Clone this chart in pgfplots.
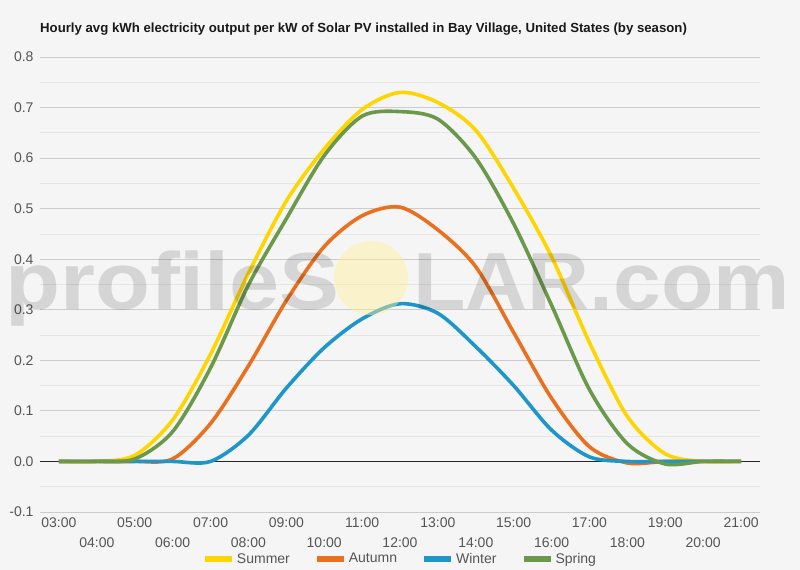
\documentclass[border=0pt]{standalone}
\usepackage{pgfplots}
\usepackage{pgfplotstable}
\pgfplotsset{compat=1.18}
\usepackage{fontspec}
\setmainfont{Liberation Sans}

\definecolor{bg}{HTML}{F5F5F5}
\definecolor{summer}{HTML}{FFD500}
\definecolor{autumn}{HTML}{E8701E}
\definecolor{winter}{HTML}{1E96C8}
\definecolor{spring}{HTML}{6B994C}
\definecolor{ticktext}{HTML}{555555}

% hourly average kWh per kW installed
\pgfplotstableread{
hour summer autumn winter spring
3  0     0      0     0
4  0     0      0     0
5  0.012 0      0     0.005
6  0.082 0.005  0     0.059
7  0.212 0.075  0     0.185
8  0.372 0.189  0.052 0.349
9  0.515 0.318  0.145 0.480
10 0.618 0.425  0.225 0.605
11 0.696 0.486  0.282 0.683
12 0.730 0.503  0.312 0.692
13 0.710 0.458  0.293 0.677
14 0.655 0.385  0.227 0.600
15 0.540 0.255  0.150 0.470
16 0.405 0.125  0.062 0.309
17 0.235 0.029  0.009 0.142
18 0.089 -0.003 0     0.035
19 0.015 0      0     -0.005
20 0     0      0     0
21 0     0      0     0
}\solar

\begin{document}
\begin{tikzpicture}
\fill[bg] (-40bp,-58bp) rectangle (760bp,512bp);
\path[use as bounding box] (-40bp,-58bp) rectangle (760bp,512bp);
\begin{axis}[
    scale only axis,
    width=720bp,
    height=455bp,
    xmin=2.5, xmax=21.5,
    ymin=-0.1, ymax=0.8,
    axis line style={draw=none},
    major tick length=0,
    minor tick length=0,
    ytick={-0.1,0,0.1,0.2,0.3,0.4,0.5,0.6,0.7,0.8},
    yticklabels={-0.1,0.0,0.1,0.2,0.3,0.4,0.5,0.6,0.7,0.8},
    minor ytick={-0.05,0.05,0.15,0.25,0.35,0.45,0.55,0.65,0.75},
    ymajorgrids, yminorgrids,
    major grid style={draw=black!20, line width=0.8bp},
    minor grid style={draw=black!10, line width=0.8bp},
    extra y ticks={0},
    extra y tick labels={},
    extra y tick style={major grid style={draw=black!85, line width=0.9bp}},
    xtick={3,5,7,9,11,13,15,17,19,21},
    xticklabels={03:00,05:00,07:00,09:00,11:00,13:00,15:00,17:00,19:00,21:00},
    extra x ticks={4,6,8,10,12,14,16,18,20},
    extra x tick labels={04:00,06:00,08:00,10:00,12:00,14:00,16:00,18:00,20:00},
    xticklabel style={yshift=-2bp},
    extra x tick style={xticklabel style={yshift=-20bp}},
    tick label style={font=\fontsize{14bp}{16bp}\selectfont, text=ticktext},
    yticklabel style={xshift=-3bp},
    legend style={at={(0.5,-0.103)}, anchor=center, draw=none, fill=none,
        font=\fontsize{14bp}{16bp}\selectfont, text=ticktext,
        /tikz/every even column/.append style={column sep=22bp}},
    legend columns=4,
    legend image code/.code={\draw[#1, line width=6bp] (0bp,0bp) -- (27bp,0bp);},
]
\addplot[summer, line width=3.6bp, smooth] table[x=hour, y=summer] {\solar};
\addlegendentry{Summer}
\addplot[autumn, line width=3.6bp, smooth] table[x=hour, y=autumn] {\solar};
\addlegendentry{Autumn}
\addplot[winter, line width=3.6bp, smooth] table[x=hour, y=winter] {\solar};
\addlegendentry{Winter}
\addplot[spring, line width=3.6bp, smooth] table[x=hour, y=spring] {\solar};
\addlegendentry{Spring}
\end{axis}

% watermark
\fill[fill={rgb,255:red,255;green,240;blue,150}, opacity=0.45] (331bp,234bp) circle (37bp);
\node[anchor=base west, inner sep=0, text=black, text opacity=0.13,
      font=\bfseries\fontsize{81bp}{81bp}\selectfont] at (-35bp,202bp) {\scalebox{1.11}[1]{profileS}};
\node[anchor=base west, inner sep=0, text=black, text opacity=0.13,
      font=\bfseries\fontsize{81bp}{81bp}\selectfont] at (373bp,202bp) {\scalebox{1.06}[1]{LAR.com}};

% title
\node[anchor=base west, inner sep=0, text=black!90,
      font=\bfseries\fontsize{13.2bp}{15bp}\selectfont] at (0bp,479bp)
  {Hourly avg kWh electricity output per kW of Solar PV installed in Bay Village, United States (by season)};
\end{tikzpicture}
\end{document}
